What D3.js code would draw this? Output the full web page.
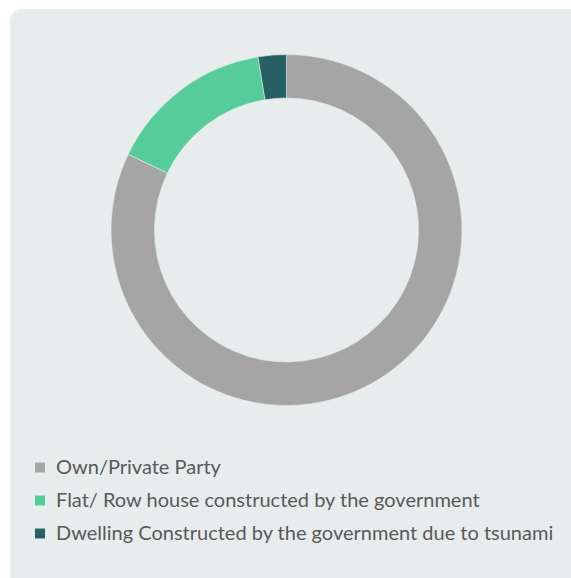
<!DOCTYPE html>
<html>
<head>
<meta charset="utf-8">
<script src="https://cdn.jsdelivr.net/npm/d3@7"></script>
<style>
  html, body { margin: 0; padding: 0; background: #ffffff; }
  svg { display: block; }
</style>
</head>
<body>
<svg id="chart" width="571" height="578"></svg>
<script>
// Housing type shares (%)
const categories = [
  "Own/Private Party",
  "Flat/ Row house constructed by the government",
  "Dwelling Constructed by the government due to tsunami"
];
const values = [82.1, 15.3, 2.6];
const colors = ["#a5a5a5", "#56cc9a", "#276063"];

const svg = d3.select("#chart");

// Panel background
svg.append("rect")
  .attr("x", 10).attr("y", 9)
  .attr("width", 572).attr("height", 590)
  .attr("rx", 12).attr("ry", 12)
  .attr("fill", "#e7eded");

const cx = 286.5, cy = 230;
const outerR = 175.5, innerR = 132;

const pie = d3.pie().sort(null).value(d => d);
const arc = d3.arc().innerRadius(innerR).outerRadius(outerR);

const g = svg.append("g").attr("transform", `translate(${cx},${cy})`);
g.selectAll("path")
  .data(pie(values))
  .join("path")
  .attr("d", arc)
  .attr("fill", (d, i) => colors[i])
  .attr("stroke", "#e7eded")
  .attr("stroke-width", 0.6);

// Legend
const legend = svg.append("g");
const rows = legend.selectAll("g")
  .data(categories)
  .join("g")
  .attr("transform", (d, i) => `translate(35, ${467 + i * 33})`);

rows.append("rect")
  .attr("x", 0).attr("y", -4.5)
  .attr("width", 10).attr("height", 10)
  .attr("fill", (d, i) => colors[i]);

rows.append("text")
  .attr("x", 21).attr("y", 0)
  .attr("dy", "0.35em")
  .attr("font-family", "Lato, 'Open Sans', sans-serif")
  .attr("font-size", 20)
  .attr("fill", "#595959")
  .text(d => d);
</script>
</body>
</html>
